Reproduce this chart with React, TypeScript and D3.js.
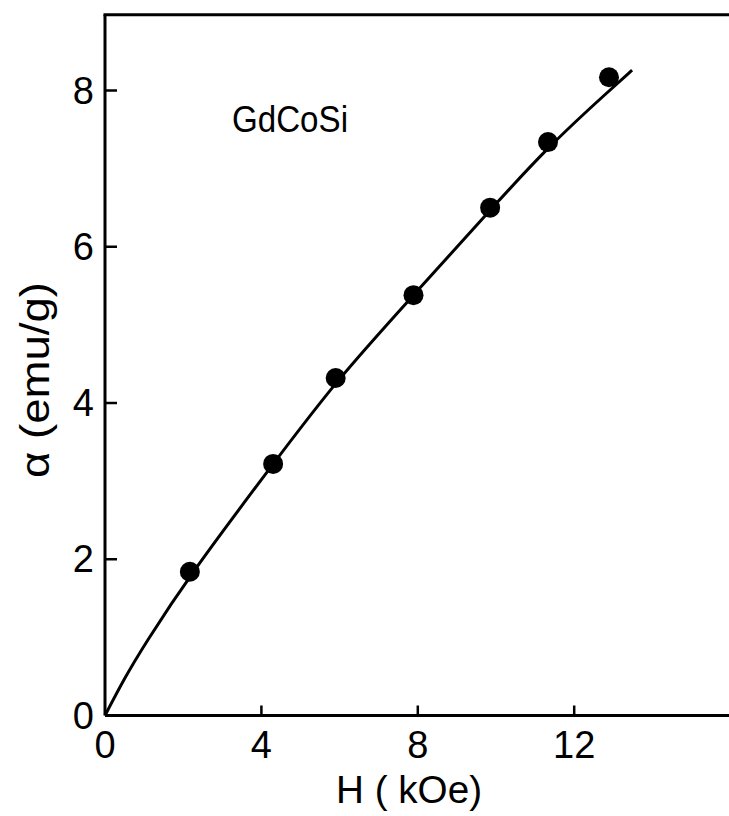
import React from "react";
import * as d3 from "d3";

const pointH = [2.17, 4.3, 5.9, 7.89, 9.85, 11.33, 12.89];
const pointSigma = [1.84, 3.22, 4.32, 5.38, 6.5, 7.34, 8.17];

const curveH = [0, 0.5, 1.0, 2.17, 4.3, 5.9, 7.89, 9.85, 11.33, 12.9, 13.48];
const curveSigma = [0, 0.48, 0.9, 1.8, 3.22, 4.28, 5.38, 6.47, 7.28, 8.0, 8.26];

const xTicks = [0, 4, 8, 12];
const yTicks = [0, 2, 4, 6, 8];

const W = 729;
const H = 816;
const FONT = "'Liberation Sans', Arial, sans-serif";

export default function App() {
  const x = d3.scaleLinear().domain([0, 16]).range([105, 730.6]);
  const y = d3.scaleLinear().domain([0, 8]).range([715.5, 90.5]);
  const yTop = 8.97;

  const line = d3
    .line<number>()
    .x((_, i) => x(curveH[i]))
    .y((d) => y(d))
    .curve(d3.curveBasis);

  const stroke = "#000";
  return (
    <svg
      width={W}
      height={H}
      style={{ position: "absolute", left: 0, top: 0, background: "#fff" }}
    >
      <rect x={0} y={0} width={W} height={H} fill="#fff" />
      {/* frame */}
      <line x1={x(0)} y1={y(0)} x2={W} y2={y(0)} stroke={stroke} strokeWidth={3} />
      <line x1={x(0)} y1={y(0)} x2={x(0)} y2={y(yTop)} stroke={stroke} strokeWidth={3} />
      <line x1={x(0) - 1.5} y1={y(yTop)} x2={W} y2={y(yTop)} stroke={stroke} strokeWidth={3} />
      {/* x ticks */}
      {xTicks.filter((t) => t > 0).map((t) => (
        <line key={"xt" + t} x1={x(t)} x2={x(t)} y1={y(0)} y2={y(0) - 10} stroke={stroke} strokeWidth={2.5} />
      ))}
      {xTicks.map((t) => (
        <text key={"xl" + t} x={x(t)} y={758} textAnchor="middle" fontFamily={FONT} fontSize={38} fill="#000">
          {t}
        </text>
      ))}
      {/* y ticks */}
      {yTicks.filter((t) => t > 0).map((t) => (
        <line key={"yt" + t} x1={x(0)} x2={x(0) + 12} y1={y(t)} y2={y(t)} stroke={stroke} strokeWidth={2.5} />
      ))}
      {yTicks.map((t) => (
        <text key={"yl" + t} x={94} y={y(t) + 13} textAnchor="end" fontFamily={FONT} fontSize={38} fill="#000">
          {t}
        </text>
      ))}
      {/* curve */}
      <path d={line(curveSigma) || ""} fill="none" stroke={stroke} strokeWidth={3} />
      {/* points */}
      {pointH.map((h, i) => (
        <circle key={"p" + i} cx={x(h)} cy={y(pointSigma[i])} r={10} fill="#000" />
      ))}
      {/* labels */}
      <text x={232} y={132} fontFamily={FONT} fontSize={36} textLength={116} lengthAdjust="spacingAndGlyphs">
        GdCoSi
      </text>
      <text x={336} y={803} fontFamily={FONT} fontSize={38} textLength={146} lengthAdjust="spacingAndGlyphs">
        H ( kOe)
      </text>
      <text
        transform="translate(49,380) rotate(-90)"
        textAnchor="middle"
        fontFamily={FONT}
        fontSize={40}
        textLength={196}
        lengthAdjust="spacingAndGlyphs"
      >
        α (emu/g)
      </text>
    </svg>
  );
}
